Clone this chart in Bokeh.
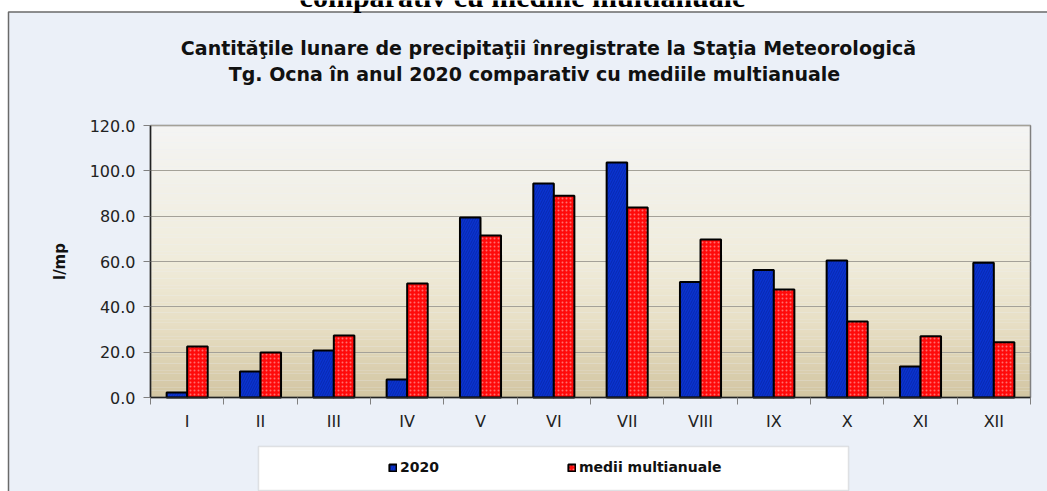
import numpy as np
from bokeh.plotting import figure
from bokeh.models import (Range1d, FixedTicker, NumeralTickFormatter, Legend, LegendItem,
                          Label, BoxAnnotation)
from bokeh.embed import file_html
from bokeh.resources import INLINE

months = ["I", "II", "III", "IV", "V", "VI", "VII", "VIII", "IX", "X", "XI", "XII"]
values_2020 = [2.2, 11.5, 20.7, 7.9, 79.4, 94.4, 103.7, 51.0, 56.2, 60.4, 13.7, 59.5]
values_mean = [22.5, 19.9, 27.3, 50.3, 71.5, 89.0, 83.8, 69.7, 47.6, 33.5, 27.0, 24.4]
y_ticks = [0, 20, 40, 60, 80, 100, 120]
series_names = ["2020", "medii multianuale"]
title_lines = ["Cantităţile lunare de precipitaţii înregistrate la Staţia Meteorologică",
               "Tg. Ocna în anul 2020 comparativ cu mediile multianuale"]
page_heading = "comparativ cu mediile multianuale"
y_label = "l/mp"

FONT = "DejaVu Sans"
W, H = 1047, 491
# plot area in pixels (left, right, top, bottom)
PL, PR, PT, PB = 150, 1030, 125, 397
YMAX = 120
n = len(months)
sx = (PR - PL) / n
sy = (PB - PT) / YMAX

p = figure(width=W, height=H, output_backend="svg", toolbar_location=None,
           x_range=Range1d(-PL / sx, (W - PL) / sx),
           y_range=Range1d(-(H - PB) / sy, PB / sy),
           min_border=0, min_border_left=0, min_border_right=0,
           min_border_top=0, min_border_bottom=0)
p.background_fill_color = "white"
p.border_fill_color = "white"
p.outline_line_color = None

# chart box (decorative)
p.quad(left=(8 - PL) / sx, right=(W + 20 - PL) / sx, bottom=-(H + 20 - PB) / sy,
       top=(PB - 11.5) / sy, fill_color="#EBF0F8", line_color="#6A6A6A", line_width=1.5,
       level="image")

# plot-area gradient (decorative)
stops_y = [0, 30, 60, 120]
stops_c = [(0xD2, 0xC5, 0xA2), (0xE6, 0xDD, 0xC2), (0xF0, 0xEC, 0xDB), (0xF4, 0xF4, 0xF3)]
edges = np.linspace(0, YMAX, 81)
mids = (edges[:-1] + edges[1:]) / 2
cols = []
for m in mids:
    rgb = [int(round(np.interp(m, stops_y, [c[k] for c in stops_c]))) for k in range(3)]
    cols.append("#%02x%02x%02x" % tuple(rgb))
p.quad(left=0, right=n, bottom=edges[:-1], top=edges[1:], fill_color=cols,
       line_color=None, level="image")
p.quad(left=0, right=n, bottom=0, top=YMAX, fill_color=None, line_color="#808080",
       line_width=1.5, level="underlay")

centers = np.arange(n) + 0.5
bw = 0.28
r1 = p.vbar(x=centers - 0.14, top=values_2020, width=bw, fill_color="#0B33CF",
            line_color="#000000", line_width=2,
            hatch_pattern="/", hatch_color="#001577", hatch_alpha=0.35, hatch_scale=5, hatch_weight=1)
r2 = p.vbar(x=centers + 0.14, top=values_mean, width=bw, fill_color="#FF0A0A",
            line_color="#000000", line_width=2,
            hatch_pattern="dot", hatch_color="#FF9A9A", hatch_alpha=0.7, hatch_scale=4, hatch_weight=1)

# grid
p.xgrid.grid_line_color = None
p.ygrid.grid_line_color = "#A4A198"
p.ygrid.grid_line_width = 1
p.ygrid.cross_bounds = (0, n)

# x axis
p.xaxis.fixed_location = 0
p.xaxis.bounds = (0, n)
p.xaxis.ticker = FixedTicker(ticks=list(centers), minor_ticks=list(range(n + 1)))
p.xaxis.major_label_overrides = {float(c): m for c, m in zip(centers, months)}
p.xaxis.major_tick_line_color = None
p.xaxis.major_tick_out = 0
p.xaxis.minor_tick_out = 7
p.xaxis.minor_tick_in = 0
p.xaxis.minor_tick_line_color = "#808080"
p.xaxis.major_label_standoff = 7
p.xaxis.axis_line_color = "#222222"
p.xaxis.axis_line_width = 1.5

# y axis
p.yaxis.fixed_location = 0
p.yaxis.bounds = (0, YMAX)
p.yaxis.ticker = FixedTicker(ticks=y_ticks)
p.yaxis.formatter = NumeralTickFormatter(format="0.0")
p.yaxis.major_tick_out = 7
p.yaxis.major_tick_in = 0
p.yaxis.major_tick_line_color = "#808080"
p.yaxis.minor_tick_line_color = None
p.yaxis.major_label_standoff = 8
p.yaxis.axis_line_color = "#222222"
p.yaxis.axis_line_width = 1.5
p.yaxis.axis_label = y_label
p.yaxis.axis_label_standoff = 18
p.yaxis.axis_label_text_font = FONT
p.yaxis.axis_label_text_font_style = "bold"
p.yaxis.axis_label_text_font_size = "15px"
p.yaxis.axis_label_text_color = "#111111"

for ax in (p.xaxis, p.yaxis):
    ax.major_label_text_font = FONT
    ax.major_label_text_font_size = "16px"
    ax.major_label_text_color = "#222222"

# page heading fragment above the chart box (cropped in the source)
p.add_layout(Label(x=522, y=H + 4, x_units="screen", y_units="screen", text=page_heading,
                   text_align="center", text_baseline="alphabetic",
                   text_font="Liberation Serif", text_font_size="30px",
                   text_font_style="bold", text_color="#000000"))

# titles
for txt, cx, base in [(title_lines[0], 548, 47), (title_lines[1], 534, 73)]:
    p.add_layout(Label(x=cx, y=H - base, x_units="screen", y_units="screen", text=txt,
                       text_align="center", text_baseline="alphabetic", text_font=FONT,
                       text_font_size="19px", text_font_style="bold", text_color="#111111"))

# legend box and legend
p.add_layout(BoxAnnotation(left=258, right=848, bottom=H - 490, top=H - 446,
                           left_units="screen", right_units="screen",
                           bottom_units="screen", top_units="screen",
                           fill_color="white", fill_alpha=1,
                           line_color="#A8A8A8", line_width=1.5))
legend = Legend(items=[LegendItem(label=series_names[0], renderers=[r1]),
                       LegendItem(label=series_names[1], renderers=[r2])],
                orientation="horizontal", location=(373, H - 490), margin=0,
                glyph_width=9, glyph_height=9, label_height=14, label_standoff=3,
                label_width=167, padding=15, spacing=0,
                label_text_font=FONT, label_text_font_size="14px",
                label_text_font_style="bold", label_text_color="#111111",
                background_fill_alpha=0, border_line_alpha=0)
p.add_layout(legend)

open("out.html", "w").write(file_html(p, INLINE))
